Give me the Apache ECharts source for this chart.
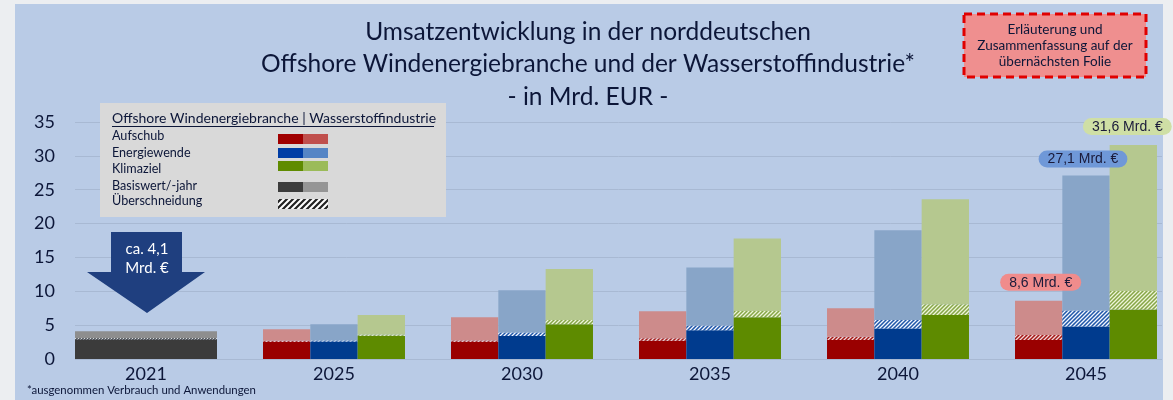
<!DOCTYPE html>
<html>
<head>
<meta charset="utf-8">
<script src="https://cdn.jsdelivr.net/npm/echarts@6/dist/echarts.min.js"></script>
<style>
  html, body { margin: 0; padding: 0; background: #eceef1; }
  #chart { width: 1173px; height: 400px; }
</style>
</head>
<body>
<div id="chart"></div>
<script>
// Kategorien und Werte (Mrd. EUR)
const years = ['2021', '2025', '2030', '2035', '2040', '2045'];
const yTicks = [0, 5, 10, 15, 20, 25, 30, 35];

// Basisjahr 2021: Oberkante Wind / Oberkante Überschneidung / Gesamt
const baseWind = 2.9;
const baseOverlapTop = 3.05;
const baseTotal = 4.1;

// Szenarien 2025-2045: Oberkante Offshore-Wind-Anteil / Oberkante Überschneidung / Gesamtwert
const aufschubWind = [2.55, 2.55, 2.7, 2.8, 2.8];
const aufschubOverlapTop = [2.7, 2.75, 3.05, 3.3, 3.55];
const aufschubTotal = [4.4, 6.15, 7.05, 7.5, 8.6];

const energiewendeWind = [2.6, 3.4, 4.25, 4.5, 4.8];
const energiewendeOverlapTop = [2.75, 3.9, 4.95, 5.75, 7.15];
const energiewendeTotal = [5.15, 10.15, 13.5, 19.0, 27.1];

const klimazielWind = [3.45, 5.15, 6.15, 6.5, 7.3];
const klimazielOverlapTop = [3.6, 5.75, 7.1, 8.1, 10.05];
const klimazielTotal = [6.5, 13.3, 17.8, 23.6, 31.6];

const totalLabels = { Aufschub: '8,6 Mrd. €', Energiewende: '27,1 Mrd. €', Klimaziel: '31,6 Mrd. €' };

const FONT = 'Lato, "Open Sans", sans-serif';
const NAVY = '#0c1638';

function hatch(base, stripe, size, lw) {
  const c = document.createElement('canvas');
  c.width = size; c.height = size;
  const ctx = c.getContext('2d');
  ctx.fillStyle = base;
  ctx.fillRect(0, 0, size, size);
  ctx.strokeStyle = stripe;
  ctx.lineWidth = lw;
  ctx.beginPath();
  ctx.moveTo(0, size); ctx.lineTo(size, 0);
  ctx.moveTo(-1, 1); ctx.lineTo(1, -1);
  ctx.moveTo(size - 1, size + 1); ctx.lineTo(size + 1, size - 1);
  ctx.stroke();
  return { image: c, repeat: 'repeat' };
}

const scenarios = [
  { name: 'Aufschub', wind: aufschubWind, overlap: aufschubOverlapTop, total: aufschubTotal,
    dark: '#9a0000', light: '#cd8b8b', hatch: hatch('#a31818', '#f3d6d6', 4, 1.3),
    pill: '#f08c8c', labelDist: 10, labelDx: 2 },
  { name: 'Energiewende', wind: energiewendeWind, overlap: energiewendeOverlapTop, total: energiewendeTotal,
    dark: '#003b8e', light: '#88a5c8', hatch: hatch('#1f56a8', '#f2f6ff', 4, 1.3),
    pill: '#6f98d8', labelDist: 8, labelDx: -3 },
  { name: 'Klimaziel', wind: klimazielWind, overlap: klimazielOverlapTop, total: klimazielTotal,
    dark: '#5e8b00', light: '#b5c88f', hatch: hatch('#86a648', '#eef5d8', 4, 1.3),
    pill: '#cfdfa5', labelDist: 10, labelDx: -6 }
];

const series = [];

// Basisjahr als ein breiter Balken auf eigener (unsichtbarer) Kategorieachse
const baseCommon = { type: 'bar', stack: 'Basis', xAxisIndex: 2, yAxisIndex: 1, barWidth: 142, clip: false };
const onlyFirst = function (v) { return years.map(function (y, i) { return i === 0 ? v : '-'; }); };
series.push(Object.assign({}, baseCommon, { name: 'Basis Wind', itemStyle: { color: '#3b3b3b' }, data: onlyFirst(baseWind) }));
series.push(Object.assign({}, baseCommon, { name: 'Basis Überschneidung', itemStyle: { color: hatch('#3b3b3b', '#ffffff', 3, 1) }, data: onlyFirst(+(baseOverlapTop - baseWind).toFixed(3)) }));
series.push(Object.assign({}, baseCommon, { name: 'Basis Wasserstoff', itemStyle: { color: '#8e8e8e' }, data: onlyFirst(+(baseTotal - baseOverlapTop).toFixed(3)) }));

scenarios.forEach(function (s) {
  const common = {
    type: 'bar', stack: s.name, xAxisIndex: 1, yAxisIndex: 1,
    barWidth: 47.33, barGap: '0%', clip: false
  };
  const pad = function (arr) { return ['-'].concat(arr); };
  series.push(Object.assign({}, common, {
    name: s.name + ' Wind',
    itemStyle: { color: s.dark },
    data: pad(s.wind)
  }));
  series.push(Object.assign({}, common, {
    name: s.name + ' Überschneidung',
    itemStyle: { color: s.hatch },
    data: pad(s.overlap.map(function (v, i) { return +(v - s.wind[i]).toFixed(3); }))
  }));
  series.push(Object.assign({}, common, {
    name: s.name + ' Wasserstoff',
    itemStyle: { color: s.light },
    data: pad(s.total.map(function (v, i) {
      const d = +(v - s.overlap[i]).toFixed(3);
      if (i === s.total.length - 1) {
        return {
          value: d,
          label: {
            show: true, position: 'top', distance: s.labelDist, offset: [s.labelDx, 0],
            formatter: totalLabels[s.name],
            fontFamily: '"Liberation Sans", Arial, sans-serif', fontSize: 14, color: '#1a1a3a',
            backgroundColor: s.pill, borderRadius: 10, padding: [2, 9, 1, 9]
          }
        };
      }
      return d;
    }))
  }));
});

// Legende (eigene Darstellung mit Doppel-Farbfeldern)
const legendRows = [
  { text: 'Aufschub', y: 136, sw: 134, c1: '#a00000', c2: '#c0504d' },
  { text: 'Energiewende', y: 153, sw: 148, c1: '#003da5', c2: '#5585c5' },
  { text: 'Klimaziel', y: 169, sw: 161, c1: '#5f8b00', c2: '#9bbb59' },
  { text: 'Basiswert/-jahr', y: 186, sw: 182, c1: '#3c3c3c', c2: '#959595' }
];

const graphic = [
  { type: 'rect', z: -100, silent: true, shape: { x: 15, y: 4, width: 1148, height: 400 }, style: { fill: '#b9cbe6' } },
  // Titel
  { type: 'text', z: 100, x: 588, y: 32, style: { text: 'Umsatzentwicklung in der norddeutschen', font: '24.5px ' + FONT, fill: NAVY, align: 'center', verticalAlign: 'middle' } },
  { type: 'text', z: 100, x: 588, y: 64, style: { text: 'Offshore Windenergiebranche und der Wasserstoffindustrie*', font: '24.5px ' + FONT, fill: NAVY, align: 'center', verticalAlign: 'middle' } },
  { type: 'text', z: 100, x: 588, y: 97, style: { text: '- in Mrd. EUR -', font: '24.5px ' + FONT, fill: NAVY, align: 'center', verticalAlign: 'middle' } },
  // Hinweisbox
  { type: 'rect', z: 100, shape: { x: 964, y: 14, width: 182, height: 63 }, style: { fill: '#ef8f8f', stroke: '#e00000', lineWidth: 3, lineDash: [8, 5] } },
  { type: 'text', z: 101, x: 1055, y: 30, style: { text: 'Erläuterung und', font: '13.5px ' + FONT, fill: NAVY, align: 'center', verticalAlign: 'middle' } },
  { type: 'text', z: 101, x: 1055, y: 46, style: { text: 'Zusammenfassung auf der', font: '13.5px ' + FONT, fill: NAVY, align: 'center', verticalAlign: 'middle' } },
  { type: 'text', z: 101, x: 1055, y: 62, style: { text: 'übernächsten Folie', font: '13.5px ' + FONT, fill: NAVY, align: 'center', verticalAlign: 'middle' } },
  // Legendenbox
  { type: 'rect', z: 100, shape: { x: 100, y: 103, width: 346, height: 114 }, style: { fill: '#d9d9d9' } },
  { type: 'text', z: 101, x: 112, y: 118, style: { text: 'Offshore Windenergiebranche | Wasserstoffindustrie', font: '14px ' + FONT, fill: NAVY, verticalAlign: 'middle' } },
  { type: 'line', z: 101, shape: { x1: 112, y1: 126.5, x2: 434, y2: 126.5 }, style: { stroke: NAVY, lineWidth: 1 } },
  { type: 'text', z: 101, x: 112, y: 201, style: { text: 'Überschneidung', font: '12.6px ' + FONT, fill: NAVY, verticalAlign: 'middle' } },
  { type: 'rect', z: 101, shape: { x: 278, y: 199, width: 50, height: 10 }, style: { fill: hatch('#ffffff', '#222222', 6, 2.2) } },
  // Pfeil 2021
  { type: 'polygon', z: 100, shape: { points: [[111, 232], [182, 232], [182, 272], [205, 272], [147, 313], [87, 272], [111, 272]] }, style: { fill: '#1f3f7f' } },
  { type: 'text', z: 101, x: 147, y: 249, style: { text: 'ca. 4,1', font: '15px ' + FONT, fill: '#ffffff', align: 'center', verticalAlign: 'middle' } },
  { type: 'text', z: 101, x: 147, y: 268, style: { text: 'Mrd. €', font: '15px ' + FONT, fill: '#ffffff', align: 'center', verticalAlign: 'middle' } },
  // Fußnote
  { type: 'text', z: 100, x: 27, y: 390, style: { text: '*ausgenommen Verbrauch und Anwendungen', font: '11.4px ' + FONT, fill: NAVY, verticalAlign: 'middle' } }
];
legendRows.forEach(function (r) {
  graphic.push({ type: 'text', z: 101, x: 112, y: r.y, style: { text: r.text, font: '12.6px ' + FONT, fill: NAVY, verticalAlign: 'middle' } });
  graphic.push({ type: 'rect', z: 101, shape: { x: 278, y: r.sw, width: 25, height: 10 }, style: { fill: r.c1 } });
  graphic.push({ type: 'rect', z: 101, shape: { x: 303, y: r.sw, width: 25, height: 10 }, style: { fill: r.c2 } });
});

const chart = echarts.init(document.getElementById('chart'));
chart.setOption({
  backgroundColor: '#eceef1',
  animation: false,
  grid: [
    { left: 75, right: 11, top: 122, bottom: 41 },
    { left: 146, right: 87, top: 122, bottom: 41 }
  ],
  xAxis: [
    { type: 'category', gridIndex: 0, data: years, show: false },
    {
      type: 'category', gridIndex: 1, data: years, boundaryGap: false,
      axisLine: { show: false }, axisTick: { show: false }, splitLine: { show: false },
      axisLabel: { fontFamily: FONT, fontSize: 18, color: NAVY, margin: 6, interval: 0 }
    },
    { type: 'category', gridIndex: 1, data: years, boundaryGap: false, show: false }
  ],
  yAxis: [
    {
      type: 'value', gridIndex: 0, min: yTicks[0], max: yTicks[yTicks.length - 1], interval: 5,
      axisLine: { show: false }, axisTick: { show: false },
      axisLabel: { fontFamily: FONT, fontSize: 18, color: NAVY, margin: 20 },
      splitLine: { lineStyle: { color: '#a8b9d3', width: 1 } }
    },
    { type: 'value', gridIndex: 1, min: yTicks[0], max: yTicks[yTicks.length - 1], interval: 5, show: false, splitLine: { show: false } }
  ],
  graphic: graphic,
  series: series
});
</script>
</body>
</html>
